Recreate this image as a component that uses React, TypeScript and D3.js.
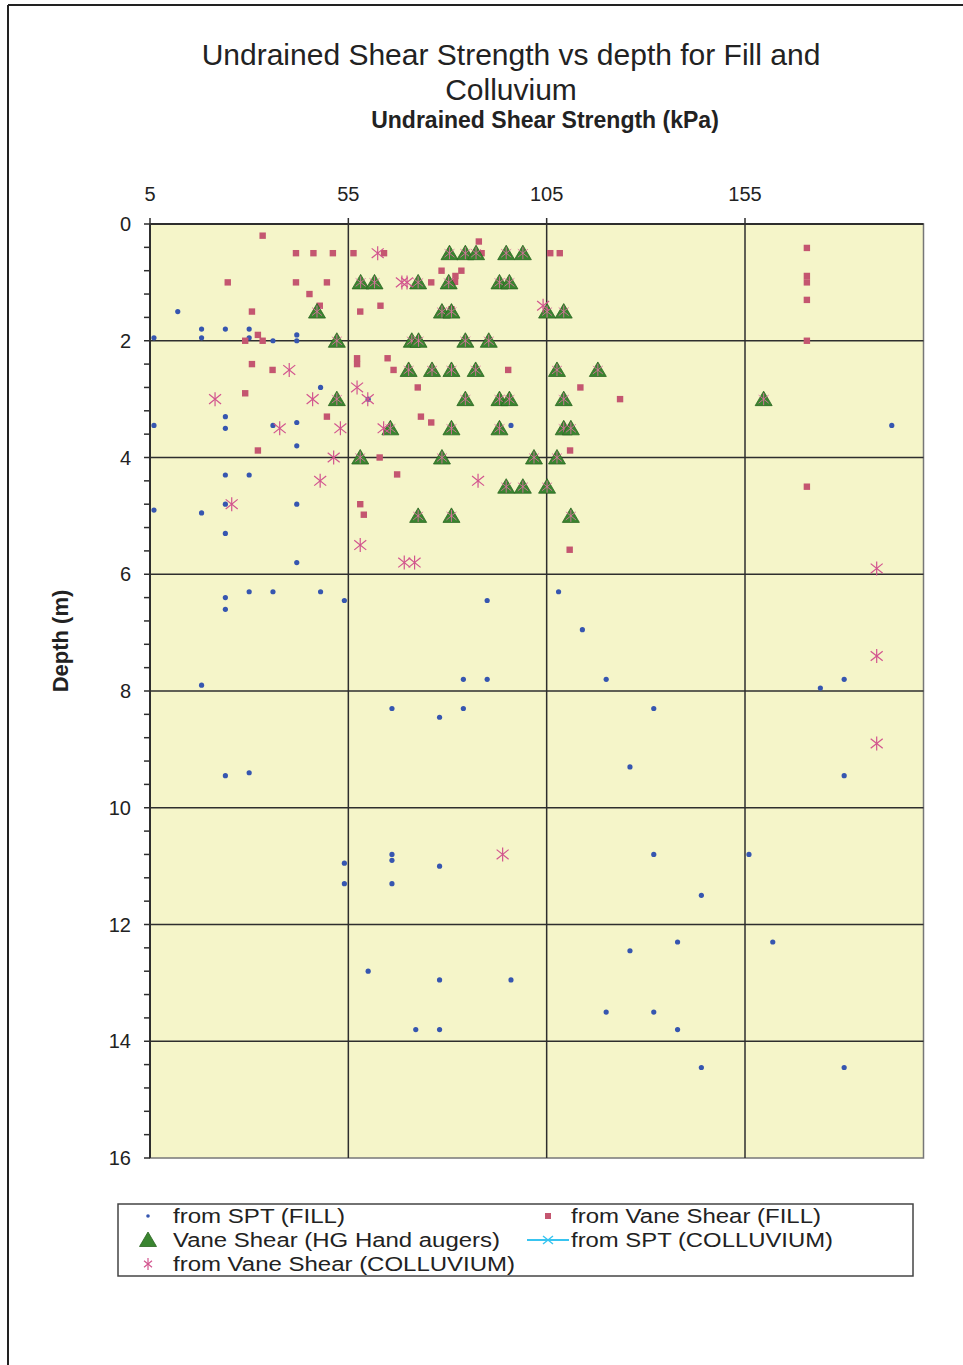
import React from 'react';
import * as d3 from 'd3';

// ---------- data ----------
const X_TICKS = [5, 55, 105, 155];
const Y_TICKS = [0, 2, 4, 6, 8, 10, 12, 14, 16];

// [undrained shear strength (kPa), depth (m)]
const sptFill: [number, number][] = [
  [12, 1.5], [6, 1.95], [18, 1.8], [18, 1.95], [24, 1.8], [30, 1.8], [30, 1.95], [36, 2.0],
  [42, 1.9], [42, 2.0], [48, 2.8], [60, 3.0], [24, 3.3], [24, 3.5], [6, 3.45], [36, 3.45],
  [42, 3.4], [42, 3.8], [96, 3.45], [192, 3.45], [24, 4.3], [30, 4.3], [24, 4.8], [6, 4.9],
  [18, 4.95], [42, 4.8], [24, 5.3], [42, 5.8], [24, 6.4], [30, 6.3], [36, 6.3], [48, 6.3],
  [54, 6.45], [24, 6.6], [90, 6.45], [108, 6.3], [114, 6.95], [18, 7.9], [84, 7.8], [90, 7.8],
  [66, 8.3], [78, 8.45], [84, 8.3], [24, 9.45], [30, 9.4], [54, 10.95], [54, 11.3], [66, 10.8],
  [66, 10.9], [66, 11.3], [78, 11.0], [120, 7.8], [132, 8.3], [126, 9.3], [132, 10.8],
  [156, 10.8], [144, 11.5], [174, 7.95], [180, 7.8], [180, 9.45], [60, 12.8], [78, 12.95],
  [96, 12.95], [72, 13.8], [78, 13.8], [126, 12.45], [138, 12.3], [162, 12.3], [120, 13.5],
  [132, 13.5], [138, 13.8], [144, 14.45], [180, 14.45],
];

const vaneFill: [number, number][] = [
  [33.4, 0.2], [41.8, 0.5], [46.2, 0.5], [51.1, 0.5], [56.3, 0.5], [64.0, 0.5], [24.6, 1.0],
  [41.8, 1.0], [49.6, 1.0], [45.2, 1.2], [47.8, 1.4], [30.7, 1.5], [58.0, 1.5], [63.1, 1.4],
  [32.2, 1.9], [29.0, 2.0], [33.4, 2.0], [30.7, 2.4], [35.9, 2.5], [57.2, 2.3], [57.2, 2.4],
  [64.9, 2.3], [66.4, 2.5], [29.0, 2.9], [49.6, 3.3], [32.2, 3.88], [62.9, 4.0], [87.9, 0.3],
  [88.6, 0.5], [78.5, 0.8], [82.0, 0.89], [83.5, 0.8], [81.9, 0.99], [75.9, 1.0], [105.9, 0.5],
  [108.3, 0.5], [81.0, 1.46], [95.3, 2.5], [72.5, 2.8], [113.5, 2.8], [123.5, 3.0], [73.3, 3.3],
  [75.9, 3.4], [110.9, 3.88], [67.3, 4.29], [58.0, 4.8], [58.9, 4.98], [110.8, 5.58],
  [170.6, 0.41], [170.6, 0.89], [170.6, 1.0], [170.6, 1.3], [170.6, 2.0], [170.6, 4.5],
];

const vaneHG: [number, number][] = [
  [80.5, 0.5], [84.5, 0.5], [87.2, 0.5], [94.8, 0.5], [99.0, 0.5],
  [58.1, 1.0], [61.6, 1.0], [72.6, 1.0], [80.3, 1.0], [93.1, 1.0], [95.6, 1.0],
  [47.1, 1.5], [78.6, 1.5], [81.0, 1.5], [105.1, 1.5], [109.3, 1.5],
  [52.1, 2.0], [71.0, 2.0], [72.7, 2.0], [84.5, 2.0], [90.4, 2.0],
  [70.2, 2.5], [76.1, 2.5], [81.0, 2.5], [87.1, 2.5], [107.6, 2.5], [117.9, 2.5],
  [52.1, 3.0], [84.5, 3.0], [93.1, 3.0], [95.6, 3.0], [109.3, 3.0], [159.7, 3.0],
  [65.6, 3.5], [81.0, 3.5], [93.1, 3.5], [109.3, 3.5], [111.1, 3.5],
  [58.0, 4.0], [78.6, 4.0], [101.8, 4.0], [107.6, 4.0],
  [94.8, 4.5], [99.0, 4.5], [105.1, 4.5],
  [72.6, 5.0], [81.0, 5.0], [111.1, 5.0],
];

const vaneColluvium: [number, number][] = [
  [62.4, 0.5], [68.5, 1.0], [69.8, 1.0], [104.1, 1.4], [40.1, 2.5], [21.4, 3.0], [46.0, 3.0],
  [57.2, 2.8], [59.9, 3.0], [37.7, 3.5], [53.0, 3.5], [63.9, 3.5], [51.3, 4.0], [47.9, 4.4],
  [25.6, 4.8], [58.0, 5.5], [87.7, 4.4], [69.1, 5.8], [71.7, 5.8], [93.9, 10.8],
  [188.2, 5.9], [188.2, 7.4], [188.2, 8.9],
];

const sptColluvium: [number, number][] = [];

const LEGEND = [
  { key: 'sptFill', label: 'from SPT (FILL)' },
  { key: 'vaneFill', label: 'from Vane Shear (FILL)' },
  { key: 'vaneHG', label: 'Vane Shear (HG Hand augers)' },
  { key: 'sptColl', label: 'from SPT (COLLUVIUM)' },
  { key: 'vaneColl', label: 'from Vane Shear (COLLUVIUM)' },
];

// ---------- styles ----------
const FONT = '"Liberation Sans", Arial, sans-serif';
const BLUE = '#3656b0';
const RED = '#c45670';
const GREEN = '#3a8530';
const GREEN_DARK = '#2a6420';
const PINK = '#d2548e';
const CYAN = '#38c4f0';
const BG = '#f5f5c9';
const GRID = '#2e2e2e';

const plot = { left: 150, right: 923.5, top: 224, bottom: 1158 };

function Asterisk({ x, y, s = 6, h = 7, color = PINK, w = 1.2 }: any) {
  return (
    <g transform={`translate(${x},${y})`} stroke={color} strokeWidth={w} fill="none">
      <line x1={-s} y1={-s * 0.8} x2={s} y2={s * 0.8} />
      <line x1={-s} y1={s * 0.8} x2={s} y2={-s * 0.8} />
      <line x1={0} y1={-h} x2={0} y2={h} />
    </g>
  );
}

function Triangle({ x, y }: any) {
  return (
    <path
      d={`M${x},${y - 8} L${x + 8.5},${y + 6.5} L${x - 8.5},${y + 6.5} Z`}
      fill={GREEN}
      stroke={GREEN_DARK}
      strokeWidth={0.8}
    />
  );
}

function LegendText({ x, y, w, children }: any) {
  return (
    <text x={x} y={y} fontSize={20} fill="#222" textLength={w} lengthAdjust="spacingAndGlyphs">
      {children}
    </text>
  );
}

export default function App() {
  const xs = d3.scaleLinear().domain([5, 200]).range([plot.left, plot.right]);
  const ys = d3.scaleLinear().domain([0, 16]).range([plot.top, plot.bottom]);
  const minorY = d3.range(0, 16.0001, 0.4);

  const lgLeft = 118, lgTop = 1204, lgW = 795, lgH = 72;
  const rowY = [1216, 1240, 1264];
  const col1Marker = 148, col1Text = 173, col2Marker = 548, col2Text = 571;

  return (
    <svg
      width={963}
      height={1365}
      style={{ position: 'absolute', left: 0, top: 0, background: '#fff' }}
      fontFamily={FONT}
    >
      <rect x={0} y={0} width={963} height={1365} fill="#fff" />
      {/* page frame */}
      <line x1={8} y1={5} x2={963} y2={5} stroke="#222" strokeWidth={2} />
      <line x1={8} y1={5} x2={8} y2={1365} stroke="#222" strokeWidth={2} />

      {/* titles */}
      <text x={511} y={65} textAnchor="middle" fontSize={30} fill="#222">
        Undrained Shear Strength vs depth for Fill and
      </text>
      <text x={511} y={100} textAnchor="middle" fontSize={30} fill="#222">
        Colluvium
      </text>
      <text x={545} y={128} textAnchor="middle" fontSize={23} fontWeight="bold" fill="#222">
        Undrained Shear Strength (kPa)
      </text>

      {/* plot background */}
      <rect
        x={plot.left}
        y={plot.top}
        width={plot.right - plot.left}
        height={plot.bottom - plot.top}
        fill={BG}
        stroke="#777"
        strokeWidth={1.5}
      />

      {/* gridlines */}
      {Y_TICKS.slice(1, -1).map((t) => (
        <line key={'hy' + t} x1={plot.left} x2={plot.right} y1={ys(t)} y2={ys(t)} stroke={GRID} strokeWidth={1.5} />
      ))}
      {X_TICKS.slice(1).map((t) => (
        <line key={'vx' + t} x1={xs(t)} x2={xs(t)} y1={plot.top} y2={plot.bottom} stroke={GRID} strokeWidth={1.5} />
      ))}

      {/* axes */}
      <line x1={plot.left} x2={plot.right} y1={plot.top} y2={plot.top} stroke={GRID} strokeWidth={2} />
      <line x1={plot.left} x2={plot.left} y1={plot.top} y2={plot.bottom} stroke={GRID} strokeWidth={2} />
      {minorY.map((t, i) => (
        <line key={'my' + i} x1={plot.left - 6} x2={plot.left} y1={ys(t)} y2={ys(t)} stroke={GRID} strokeWidth={1.5} />
      ))}
      {X_TICKS.map((t) => (
        <line key={'tx' + t} x1={xs(t)} x2={xs(t)} y1={plot.top - 6} y2={plot.top} stroke={GRID} strokeWidth={1.5} />
      ))}
      {X_TICKS.map((t) => (
        <text key={'lx' + t} x={xs(t)} y={201} textAnchor="middle" fontSize={20} fill="#222">
          {t}
        </text>
      ))}
      {Y_TICKS.map((t) => (
        <text key={'ly' + t} x={131} y={ys(t)} dy="0.35em" textAnchor="end" fontSize={20} fill="#222">
          {t}
        </text>
      ))}
      <text
        transform={`translate(68,641) rotate(-90)`}
        textAnchor="middle"
        fontSize={22}
        fontWeight="bold"
        fill="#222"
      >
        Depth (m)
      </text>

      {/* series */}
      <g>
        {sptFill.map(([v, d], i) => (
          <circle key={'sf' + i} cx={xs(v)} cy={ys(d)} r={2.6} fill={BLUE} />
        ))}
      </g>
      <g>
        {vaneFill.map(([v, d], i) => (
          <rect key={'vf' + i} x={xs(v) - 3.2} y={ys(d) - 3.2} width={6.4} height={6.4} fill={RED} />
        ))}
      </g>
      <g>
        {vaneHG.map(([v, d], i) => (
          <g key={'hg' + i}>
            <Triangle x={xs(v)} y={ys(d)} />
            <Asterisk x={xs(v)} y={ys(d)} s={5} h={6} w={0.9} color="#d9709e" />
          </g>
        ))}
      </g>
      <g>
        {vaneColluvium.map(([v, d], i) => (
          <Asterisk key={'vc' + i} x={xs(v)} y={ys(d)} />
        ))}
      </g>
      <g>
        {sptColluvium.map(([v, d], i) => (
          <Asterisk key={'sc' + i} x={xs(v)} y={ys(d)} color={CYAN} h={0} />
        ))}
      </g>

      {/* legend */}
      <rect x={lgLeft} y={lgTop} width={lgW} height={lgH} fill="#fff" stroke="#444" strokeWidth={1.5} />
      <circle cx={col1Marker} cy={rowY[0]} r={1.8} fill={BLUE} />
      <LegendText x={col1Text} y={rowY[0] + 7} w={172}>{LEGEND[0].label}</LegendText>
      <rect x={col2Marker - 3} y={rowY[0] - 3} width={6} height={6} fill={RED} />
      <LegendText x={col2Text} y={rowY[0] + 7} w={250}>{LEGEND[1].label}</LegendText>
      <Triangle x={col1Marker} y={rowY[1]} />
      <LegendText x={col1Text} y={rowY[1] + 7} w={327}>{LEGEND[2].label}</LegendText>
      <line x1={527} x2={569} y1={rowY[1]} y2={rowY[1]} stroke={CYAN} strokeWidth={2} />
      <Asterisk x={col2Marker} y={rowY[1]} s={5} h={0} color={CYAN} w={1.4} />
      <LegendText x={col2Text} y={rowY[1] + 7} w={262}>{LEGEND[3].label}</LegendText>
      <Asterisk x={col1Marker} y={rowY[2]} s={4} h={6} />
      <LegendText x={col1Text} y={rowY[2] + 7} w={342}>{LEGEND[4].label}</LegendText>
    </svg>
  );
}
